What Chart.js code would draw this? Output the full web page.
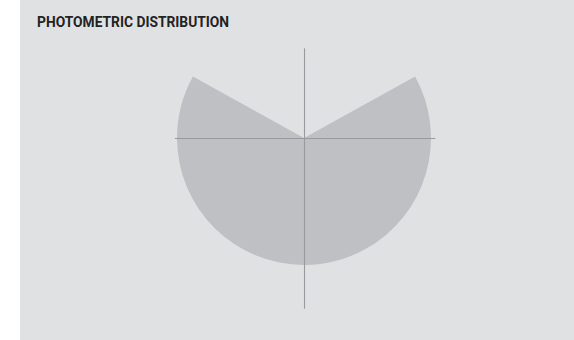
<!DOCTYPE html>
<html>
<head>
<meta charset="utf-8">
<script src="https://cdn.jsdelivr.net/npm/chart.js@4/dist/chart.umd.min.js"></script>
<style>
  html, body { margin: 0; padding: 0; background: #ffffff; }
  #panel { position: absolute; left: 20px; top: 0; width: 554px; height: 340px; background: #e0e1e3; }
  #title { position: absolute; left: 17px; top: 14px; font: bold 13.8px Roboto, sans-serif; color: #232323; letter-spacing: 0; }
  #wrap { position: absolute; left: 0; top: 0; width: 574px; height: 340px; }
</style>
</head>
<body>
<div id="panel"><div id="title">PHOTOMETRIC DISTRIBUTION</div></div>
<div id="wrap"><canvas id="photo"></canvas></div>
<script>
// Zones of the distribution, clockwise from straight up (degrees)
const zoneLabels = ['Upper right', 'Beam', 'Upper left'];
const zoneSpans = [61, 238, 61];
const zoneIntensity = [0, 100, 0];

// Reference axes: direction (deg, clockwise from up) and reach in intensity units
const axisAngles = [270, 90, 0, 180];
const axisReach = [102, 103, 71, 134];

const crossAxes = {
  id: 'crossAxes',
  afterDatasetsDraw(chart) {
    const r = chart.scales.r;
    const c = chart.ctx;
    c.save();
    c.strokeStyle = '#999a9d';
    c.lineWidth = 1.1;
    axisAngles.forEach((a, i) => {
      const ang = a * Math.PI / 180 - Math.PI / 2;
      const d = r.getDistanceFromCenterForValue(axisReach[i]);
      c.beginPath();
      c.moveTo(r.xCenter + 0.5, r.yCenter + 0.5);
      c.lineTo(r.xCenter + 0.5 + Math.cos(ang) * d, r.yCenter + 0.5 + Math.sin(ang) * d);
      c.stroke();
    });
    c.restore();
  }
};

new Chart(document.getElementById('photo'), {
  type: 'polarArea',
  data: {
    labels: zoneLabels,
    datasets: [{
      data: zoneIntensity,
      angle: zoneSpans,
      backgroundColor: '#bfc0c3',
      borderWidth: 0
    }]
  },
  options: {
    responsive: true,
    maintainAspectRatio: false,
    animation: false,
    layout: { padding: { left: 177, right: 142, top: 11, bottom: 74 } },
    plugins: { legend: { display: false }, tooltip: { enabled: false } },
    scales: {
      r: {
        display: false,
        min: 0,
        max: 100,
        startAngle: 0
      }
    }
  },
  plugins: [crossAxes]
});
</script>
</body>
</html>
